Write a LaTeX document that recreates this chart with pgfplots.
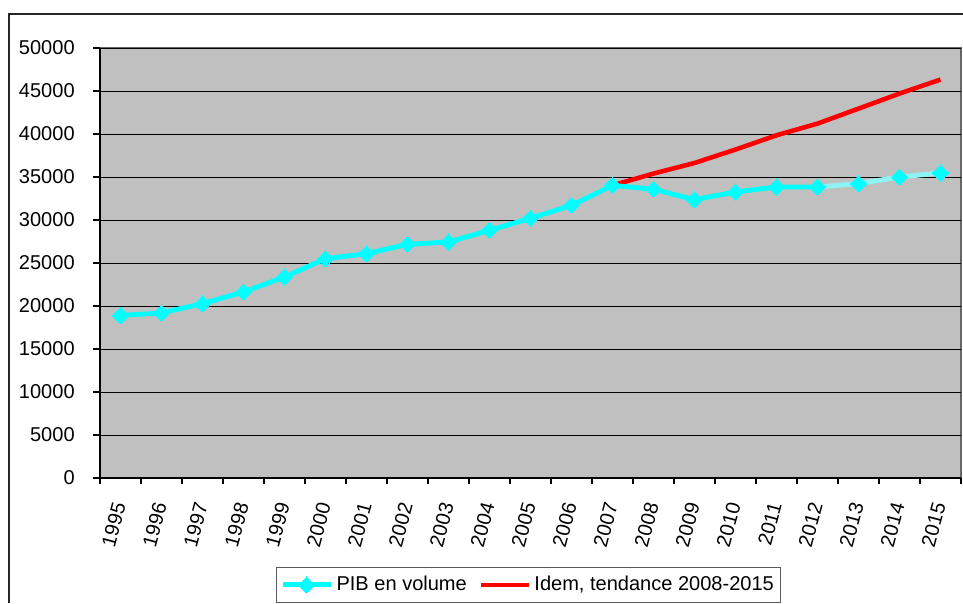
\documentclass[border=0pt]{standalone}
\usepackage{pgfplots}
\pgfplotsset{compat=1.18}
\usepackage{fontspec}
\setmainfont{Liberation Sans}
\definecolor{bg}{HTML}{C0C0C0}
\definecolor{cy}{HTML}{00FFFF}
\definecolor{lcy}{HTML}{8CF4F4}
\definecolor{rd}{HTML}{FF0000}
\begin{document}
\begin{tikzpicture}
\useasboundingbox (0,0) rectangle (19.26cm,12.06cm);
\draw[line width=0.9pt, black!85] (0.18cm,0) -- (0.18cm,11.78cm) -- (19.3cm,11.78cm);
\begin{axis}[
  at={(2cm,2.5cm)}, anchor=south west,
  width=17.22cm, height=8.6cm, scale only axis,
  xmin=1994.5, xmax=2015.5, ymin=0, ymax=50000,
  scaled y ticks=false,
  axis x line*=bottom, axis y line*=left,
  axis line style={-, black, line width=0.6pt},
  axis background/.style={fill=bg, draw=gray!80!black, line width=0.6pt},
  xtick={1995,...,2015},
  minor xtick={1994.5,1995.5,...,2015.5},
  major x tick style={draw=none},
  minor x tick style={black, line width=0.6pt},
  ytick={0,5000,...,50000},
  tick align=outside,
  major tick length=0.14cm, minor tick length=0.12cm,
  ymajorgrids, major grid style={black, line width=0.5pt},
  y tick style={black, line width=0.6pt},
  /pgf/number format/.cd, 1000 sep={}, fixed, assume math mode=true, /pgfplots/.cd,
  every tick label/.append style={font=\fontsize{11.4}{13}\selectfont},
  yticklabel style={inner sep=0pt, anchor=east, xshift=-0.36cm},
  xticklabel style={inner sep=0pt, xshift=-0.02cm, yshift=-0.36cm, rotate=75, anchor=east},
  legend columns=2,
  legend style={at={(0.498,-0.207)}, anchor=north, draw=gray!70!black, line width=0.6pt,
    font=\fontsize{11.4}{13}\selectfont, inner xsep=2pt, inner ysep=3pt,
    /tikz/every even column/.append style={column sep=0.16cm}},
  legend image code/.code={\draw[mark repeat=2,mark phase=2,#1] plot coordinates {(0cm,0cm) (0.48cm,0cm) (0.96cm,0cm)};},
]
\addplot[rd, line width=2.6pt, forget plot] coordinates {
(2007,34030) (2008,35400) (2009,36630) (2010,38190) (2011,39850)
(2012,41210) (2013,42950) (2014,44700) (2015,46330)};
\addplot[cy, line width=2.8pt, mark=diamond*, mark size=4.6pt, mark options={fill=cy, draw=cy, line width=0pt, xscale=1.33}] coordinates {
(1995,18900) (1996,19190) (1997,20280) (1998,21630) (1999,23370)
(2000,25510) (2001,26090) (2002,27170) (2003,27440) (2004,28800)
(2005,30200) (2006,31700) (2007,34030) (2008,33570) (2009,32370)
(2010,33260) (2011,33840) (2012,33840)};
\addlegendentry{PIB en volume}
\addplot[lcy, line width=2.8pt, forget plot] coordinates {
(2012,33840) (2013,34230) (2014,35000) (2015,35470)};
\addplot[only marks, mark=diamond*, mark size=4.6pt, mark options={fill=cy, draw=cy, line width=0pt, xscale=1.33}, forget plot] coordinates {
(2012,33840) (2013,34230) (2014,35000) (2015,35470)};
\addlegendimage{rd, line width=2.6pt}
\addlegendentry{Idem, tendance 2008-2015}
\end{axis}
\end{tikzpicture}
\end{document}
